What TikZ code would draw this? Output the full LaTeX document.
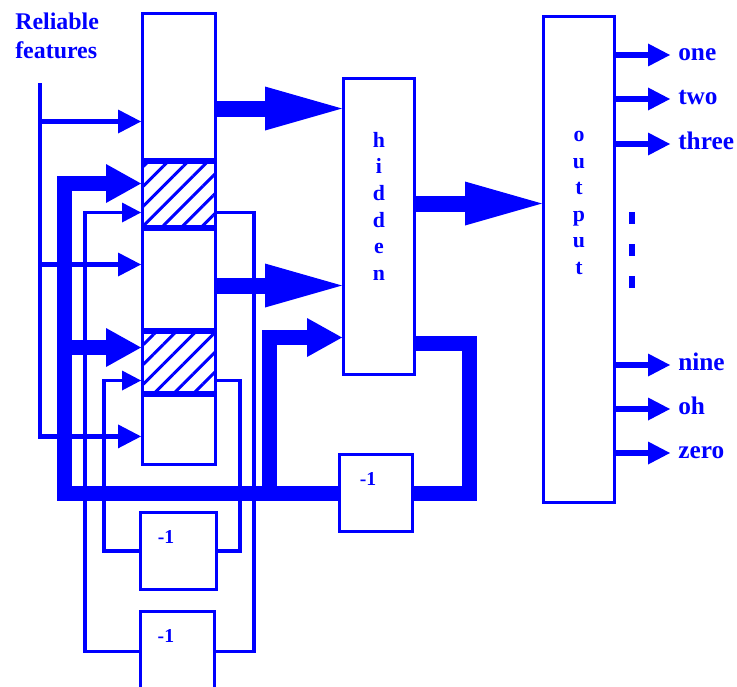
\documentclass[tikz,border=0pt]{standalone}
\usepackage{fontspec}
\setmainfont{Liberation Serif}
\usetikzlibrary{arrows.meta,positioning,patterns.meta}

\begin{document}
\begin{tikzpicture}[
x=0.25mm, y=-0.25mm,
font=\bfseries, text=blue,
node distance=0pt,
box/.style={draw=blue, line width=0.75mm, inner sep=0pt, anchor=north west, minimum width=18.25mm},
seg/.style={box, fill=white},
ctx/.style={box, pattern={Lines[angle=45,distance=3.5mm,line width=0.75mm]}, pattern color=blue},
delay/.style={box, fill=white, minimum height=19.25mm},
dtxt/.style={anchor=center, font=\fontsize{14}{16}\selectfont\bfseries, yshift=-6.6mm},
vtxt/.style={inner sep=0pt, anchor=north, align=center, font=\fontsize{15.5}{18.9}\selectfont\bfseries},
outlbl/.style={inner sep=0pt, anchor=west, text height=8.2pt, text depth=0pt, font=\fontsize{18}{20}\selectfont\bfseries},
featline/.style={draw=blue, line width=1.2mm},
featarr/.style={featline, -{Triangle[length=5.75mm, width=6mm, line width=0pt]}},
loopline/.style={draw=blue, line width=0.8mm},
looparr/.style={loopline, -{Triangle[length=4.75mm, width=5mm, line width=0pt]}},
thickline/.style={draw=blue, line width=3.75mm},
thickarr/.style={thickline, -{Triangle[length=8.75mm, width=9.75mm, line width=0pt]}},
bigarr/.style={draw=blue, line width=4mm, -{Triangle[length=19.25mm, width=11mm, line width=0pt]}},
outarr/.style={draw=blue, line width=1.4mm, -{Triangle[length=5.5mm, width=5.75mm, line width=0pt]}}
]
\useasboundingbox (0,0) rectangle (737,686);

% input column with the two context slots
\node[seg, minimum height=36.5mm] (seg1) at (141,12) {};
\node[ctx, minimum height=16mm, below=of seg1] (ctx1) {};
\node[seg, minimum height=25mm, below=of ctx1] (seg2) {};
\node[ctx, minimum height=15mm, below=of seg2] (ctx2) {};
\node[seg, minimum height=17.25mm, below=of ctx2] (seg3) {};

% hidden and output layers
\node[box, minimum width=17.75mm, minimum height=74mm] (hidden) at (342,77) {};
\node[vtxt, below=13.75mm of hidden.north] (hidlbl) {h\\i\\d\\d\\e\\n};
\node[box, minimum width=17.75mm, minimum height=121.5mm] (out) at (542,15) {};
\node[vtxt, below=29mm of out.north] (outlbl) {o\\u\\t\\p\\u\\t};

% unit delays
\node[delay, label={[dtxt, xshift=-2mm]north:-1}] (dMain) at (338,453) {};
\node[delay, minimum width=19mm, label={[dtxt, xshift=-3.1mm]north:-1}] (d1) at (139,511) {};
\node[delay, minimum width=18.5mm, minimum height=20mm, label={[dtxt, xshift=-2.9mm]north:-1}] (d2) at (139,610) {};

\node[inner sep=0pt, anchor=north west, align=left, font=\fontsize{17}{20.3}\selectfont\bfseries] (feat) at (15,13) {Reliable\\features};

% reliable features into the column
\coordinate (ftop) at (40,83);
\path ([yshift=-8.75mm]seg1.west) coordinate (in1)
      ([yshift=3.75mm]seg2.west) coordinate (in2)
      ([yshift=-1.6mm]seg3.west) coordinate (in3);
\draw[featarr] (ftop) |- (in3);
\draw[featarr] (ftop |- in1) -- (in1);
\draw[featarr] (ftop |- in2) -- (in2);

% feed forward
\path ([yshift=-5.5mm]seg1.east) coordinate (h1)
      ([yshift=-1.5mm]seg2.east) coordinate (h2)
      ([yshift=5.75mm]hidden.east) coordinate (ho);
\draw[bigarr] (h1) -- (h1 -| hidden.west);
\draw[bigarr] (h2) -- (h2 -| hidden.west);
\draw[bigarr] (ho) -- (ho -| out.west);

% context loops through the small delays
\path ([yshift=-4.5mm]ctx1.east) coordinate (c1o)
      ([yshift=-4.5mm]ctx1.west) coordinate (c1i)
      ([yshift=-4.5mm]ctx2.east) coordinate (c2o)
      ([yshift=-4.5mm]ctx2.west) coordinate (c2i);
\draw[loopline] (c1o) -- ++(37,0) |- (d2.east);
\draw[looparr] (d2.west) -- ++(-54,0) |- (c1i);
\draw[loopline] (c2o) -- ++(23,0) |- (d1.east);
\draw[looparr] (d1.west) -- ++(-35,0) |- (c2i);

% hidden state fed back
\path ([yshift=8.25mm]hidden.south east) coordinate (hr)
      ([yshift=-27.75mm]hidden.west) coordinate (hi)
      ([yshift=2.75mm]ctx1.west) coordinate (t1)
      ([yshift=3.75mm]ctx2.west) coordinate (t2);
\path (t1) ++(-77,0) coordinate (bL);
\path (dMain.west) ++(-69,0) coordinate (hb);
\draw[thickline] (hr) -- ++(53,0) |- (dMain.east);
\draw[thickarr] (dMain.west) -| (bL) -- (t1);
\draw[thickarr] (bL |- t2) -- (t2);
\draw[thickarr] (hb) |- (hi);

% outputs
\foreach \yy/\wrd in {55/one,99/two,144/three,365/nine,409/oh,453/zero}{
  \coordinate (tip-\wrd) at (670,\yy);
  \draw[outarr] (out.east |- tip-\wrd) -- (tip-\wrd);
  \node[outlbl, right=2mm of tip-\wrd] (lbl-\wrd) {\wrd};
}
\draw[draw=blue, line width=1.4mm, dash pattern=on 3.1mm off 4.9mm] (632,212) -- (632,288);
\end{tikzpicture}
\end{document}
